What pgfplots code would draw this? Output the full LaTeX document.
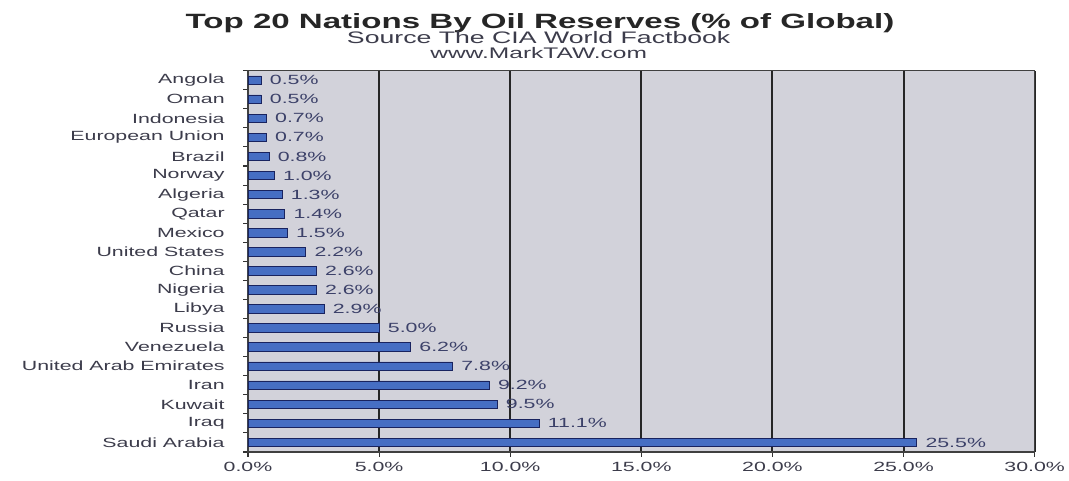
\documentclass[border=0pt]{standalone}
\usepackage{fontspec}
\setmainfont{Liberation Sans}[FakeStretch=1.6]
\usepackage{pgfplots}
\pgfplotsset{compat=1.18}
\definecolor{bgc}{RGB}{210,210,218}
\definecolor{barc}{RGB}{70,110,195}
\definecolor{barl}{RGB}{150,185,235}
\definecolor{bard}{RGB}{25,35,95}
\definecolor{txtc}{RGB}{60,60,75}
\definecolor{lblc}{RGB}{60,65,105}
\begin{document}
\begin{tikzpicture}
\useasboundingbox (-186pt,-21.75pt) rectangle (615.75pt,339pt);
\begin{axis}[
  at={(0,0)}, anchor=south west,
  scale only axis, width=590pt, height=286pt,
  xbar, bar width=6.4pt,
  xmin=0, xmax=30, ymin=-0.5, ymax=19.5,
  /pgf/number format/assume math mode=true,
  axis background/.style={fill=bgc},
  axis line style={draw=black!75, line width=0.8pt},
  xtick={0,5,...,30},
  xticklabels={0.0\%,5.0\%,10.0\%,15.0\%,20.0\%,25.0\%,30.0\%},
  minor xtick={0,5,...,30},
  ytick={0,...,19},
  yticklabels={Saudi Arabia,Iraq,Kuwait,Iran,United Arab Emirates,Venezuela,Russia,Libya,Nigeria,China,United States,Mexico,Qatar,Algeria,Norway,Brazil,European Union,Indonesia,Oman,Angola},
  minor ytick={-0.5,0.5,...,19.5},
  major tick length=0pt, minor tick length=3.5pt,
  tick align=outside, tick pos=left,
  minor tick style={draw=black!80, line width=0.8pt},
  xmajorgrids, major grid style={draw=black!85, line width=1.5pt},
  tick label style={font=\fontsize{10}{12}\selectfont, text=txtc},
  yticklabel style={xshift=-14pt},
  xticklabel style={yshift=-4pt},
  nodes near coords={\pgfmathprintnumber[fixed,fixed zerofill,precision=1]{\pgfplotspointmeta}\%},
  every node near coord/.append style={font=\fontsize{10}{12}\selectfont, text=lblc, xshift=3pt},
]
\addplot[draw=bard, line width=0.6pt, fill=barc]
coordinates {
(25.5,0) (11.1,1) (9.5,2) (9.2,3) (7.8,4) (6.2,5) (5.0,6) (2.9,7) (2.6,8) (2.6,9)
(2.2,10) (1.5,11) (1.4,12) (1.3,13) (1.0,14) (0.8,15) (0.7,16) (0.7,17) (0.5,18) (0.5,19)
};
\end{axis}
\node[font=\fontsize{15.5}{18}\selectfont\bfseries, text=black!85] at (219pt,322pt) {Top 20 Nations By Oil Reserves (\% of Global)};
\node[font=\fontsize{12.5}{15}\selectfont, text=txtc] at (218pt,310.5pt) {Source The CIA World Factbook};
\node[font=\fontsize{11.5}{14}\selectfont, text=txtc] at (218pt,299.5pt) {www.MarkTAW.com};
\end{tikzpicture}
\end{document}
